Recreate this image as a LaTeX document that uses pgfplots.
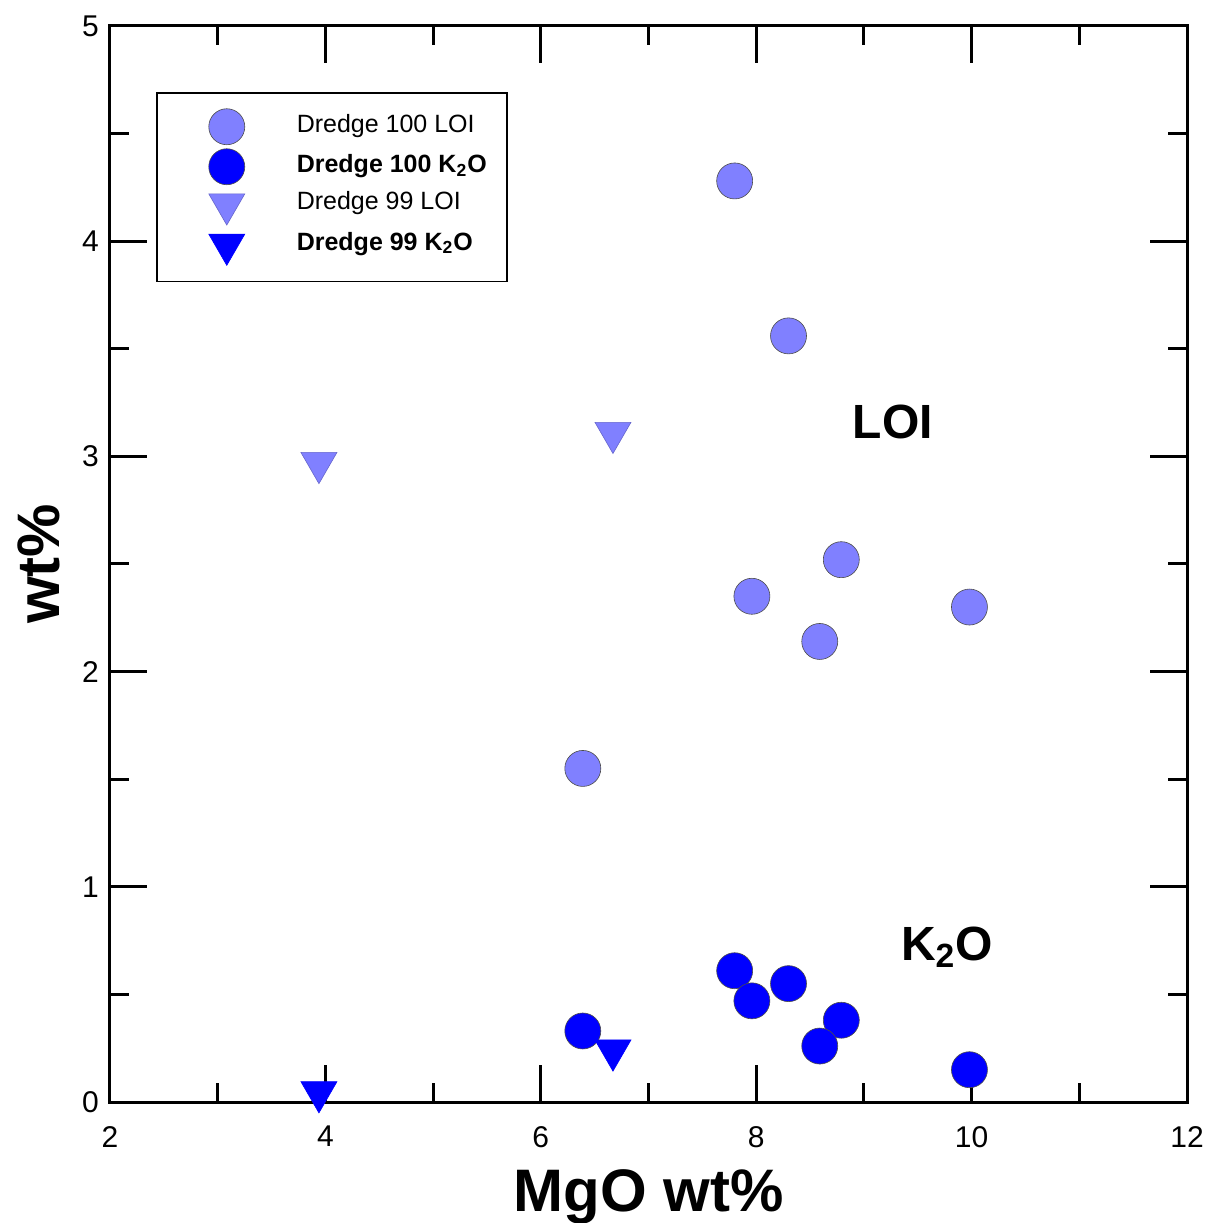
\documentclass[border=0pt]{standalone}
\usepackage{fontspec}
\setmainfont{Liberation Sans}
\usepackage{pgfplots}
\pgfplotsset{compat=1.18}

\definecolor{loiblue}{HTML}{8080FF}
\definecolor{kblue}{HTML}{0000FF}

\begin{document}
\begin{tikzpicture}
\begin{axis}[
  width=538.5pt, height=538pt, scale only axis,
  xmin=2, xmax=12, ymin=0, ymax=5,
  xtick={2,4,...,12}, ytick={0,1,...,5},
  minor xtick={3,5,...,11}, minor ytick={0.5,1.5,...,4.5},
  tick align=inside, tick pos=both,
  major tick length=18.5pt, minor tick length=9.5pt,
  axis line style={line width=1.5pt},
  every tick/.style={line width=1.5pt, black},
  /pgf/number format/assume math mode=true,
  ticklabel style={font=\fontsize{15}{17}\selectfont},
  xticklabel style={yshift=-8.5pt},
  yticklabel style={xshift=-2pt},
  xlabel={\bfseries MgO wt\%},
  ylabel={\bfseries wt\%},
  label style={font=\fontsize{30}{34}\selectfont, inner sep=0pt},
  xlabel style={yshift=-7.5pt},
  ylabel style={yshift=7.5pt},
  clip=false,
  legend cell align=left,
  legend image code/.code={
    \path (0pt,-1pt) (54pt,1pt);
    \draw[mark repeat=2, mark phase=2, #1, only marks] plot coordinates {(0pt,0pt) (27pt,0pt) (54pt,0pt)};},
  legend style={at={(rel axis cs:0.0427,0.9387)}, anchor=north west,
    draw=black, line width=0.8pt, font=\fontsize{12.5}{14}\selectfont,
    inner xsep=8pt, inner ysep=8pt, row sep=2pt,
    nodes={text height=8.5pt, text depth=3pt}},
  /tikz/every odd column/.append style={column sep=6pt},
]
\addplot[draw=none, mark=*, mark size=9pt, mark options={fill=loiblue, draw=black!70, line width=0.3pt}]
  coordinates {(7.80,4.28) (8.30,3.56) (8.79,2.52) (7.96,2.35) (8.59,2.14) (9.98,2.30) (6.39,1.55)};
\addlegendentry{Dredge 100 LOI}
\addplot[draw=none, mark=*, mark size=9pt, mark options={fill=kblue, draw=black!70, line width=0.3pt}]
  coordinates {(7.80,0.61) (7.96,0.47) (8.30,0.55) (8.79,0.38) (8.59,0.26) (9.98,0.15) (6.39,0.33)};
\addlegendentry{\bfseries Dredge 100 K\textsubscript{2}O}
\addplot[draw=none, mark=triangle*, mark size=10.4pt, mark options={rotate=180, fill=loiblue, draw=loiblue!80!black, line width=0.3pt}]
  coordinates {(3.94,2.97) (6.67,3.11)};
\addlegendentry{Dredge 99 LOI}
\addplot[draw=none, mark=triangle*, mark size=10.4pt, mark options={rotate=180, fill=kblue, draw=kblue, line width=0.3pt}]
  coordinates {(3.94,0.046) (6.67,0.24)};
\addlegendentry{\bfseries Dredge 99 K\textsubscript{2}O}
\node[font=\fontsize{24}{28}\selectfont\bfseries] at (axis cs:9.27,3.16) {LOI};
\node[font=\fontsize{24}{28}\selectfont\bfseries] at (axis cs:9.77,0.72) {K\textsubscript{2}O};
\end{axis}
\pgfresetboundingbox
\useasboundingbox ([xshift=-55pt,yshift=-60.5pt]current axis.south west) rectangle ([xshift=10pt,yshift=13pt]current axis.north east);
\end{tikzpicture}
\end{document}
